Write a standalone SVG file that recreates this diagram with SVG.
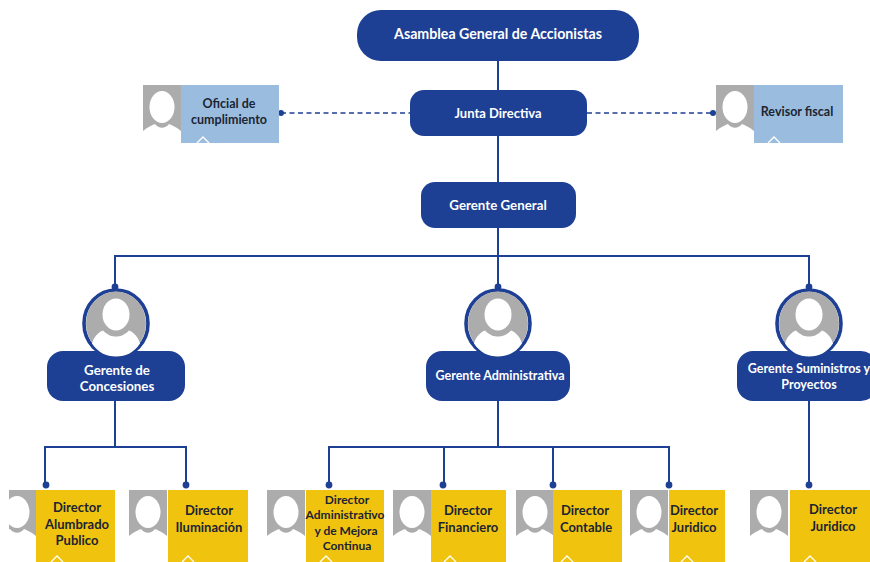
<svg xmlns="http://www.w3.org/2000/svg" width="870" height="562" viewBox="0 0 870 562">
<style>
text{font-family:"Lato","Liberation Sans",sans-serif;font-weight:700;text-anchor:middle}
.w{fill:#fff;font-size:12.5px}
.k{fill:#1c2433;font-size:12.5px}
.y{fill:#1c2433;font-size:13px}
.n{fill:#1d3f94}
.c{fill:none;stroke:#1d3f94;stroke-width:2}
.d{fill:none;stroke:#1d3f94;stroke-width:1.6;stroke-dasharray:5 3.5}
.dot{fill:#1d3f94}
.g{fill:#acacac}
.p{fill:#fff}
.bl{fill:#9abddf}
.ye{fill:#f0c30f}
.t{fill:none;stroke:#fff;stroke-width:1.3}
</style>
<defs>
<g id="head"><path class="g" d="M0 0H38V46C33 42 29 40 26 39C22 44 16 44 12 39C9 40 5 42 0 46Z"/><ellipse class="p" cx="19" cy="22" rx="12.5" ry="16"/></g>
<g id="circ"><ellipse cx="0" cy="0" rx="32" ry="33.5" fill="#fff" stroke="#1d3f94" stroke-width="3.6"/><ellipse class="g" cx="0" cy="0" rx="30" ry="32"/><path class="p" d="M-24 20C-22 12 -16 8 -13 7C-8 12 -4 13 0 13C4 13 8 12 13 7C16 8 22 12 24 20C18 29 10 33 0 33C-10 33 -18 29 -24 20Z"/><ellipse class="p" cx="0" cy="-9" rx="13.5" ry="16"/></g>
</defs>
<rect width="870" height="562" fill="#fff"/>
<g id="connectors">
<path class="c" d="M498 60V91M498 136V182M498 228V290M115 287V256H809V290M115 400V447H186V486M45 486V447H115M498 400V447M329 486V447H669V486M444 447V486M553 447V486M809 400V486"/>
<path class="d" d="M281 113H410M587 113H713"/>
<circle class="dot" cx="281" cy="113" r="3"/><circle class="dot" cx="713" cy="113" r="3"/>
<circle class="dot" cx="115" cy="287" r="3.4"/><circle class="dot" cx="498" cy="287" r="3.4"/><circle class="dot" cx="809" cy="287" r="3.4"/>
<circle class="dot" cx="46" cy="485" r="3.4"/><circle class="dot" cx="186" cy="485" r="3.4"/><circle class="dot" cx="329" cy="485" r="3.4"/><circle class="dot" cx="443" cy="485" r="3.4"/><circle class="dot" cx="553" cy="485" r="3.4"/><circle class="dot" cx="669" cy="485" r="3.4"/><circle class="dot" cx="809" cy="485" r="3.4"/>
</g>
<g id="asamblea"><rect class="n" x="357" y="10" width="282" height="51" rx="24"/><text class="w" x="498" y="39" style="font-size:14.2px">Asamblea General de Accionistas</text></g>
<g id="junta"><rect class="n" x="410" y="90" width="177" height="46" rx="14"/><text class="w" x="498" y="118" style="font-size:13px">Junta Directiva</text></g>
<g id="gerente-general"><rect class="n" x="421" y="182" width="155" height="46" rx="14"/><text class="w" x="498" y="210" style="font-size:13.3px">Gerente General</text></g>
<g id="oficial"><use href="#head" x="143" y="85"/><rect class="bl" x="181" y="85" width="98" height="58"/><path class="t" d="M197 143L203 137L209 143"/><text class="k" x="229" y="108">Oficial de</text><text class="k" x="229" y="124">cumplimiento</text></g>
<g id="revisor"><use href="#head" x="716" y="85"/><rect class="bl" x="754" y="85" width="89" height="58"/><path class="t" d="M768 143L774 137L780 143"/><text class="k" x="797" y="116">Revisor fiscal</text></g>
<g id="gerente-concesiones"><rect class="n" x="47" y="351" width="138" height="50" rx="16"/><use href="#circ" x="116" y="323.5"/><text class="w" x="117" y="375" style="font-size:13.3px">Gerente de</text><text class="w" x="117" y="391" style="font-size:13.3px">Concesiones</text></g>
<g id="gerente-administrativa"><rect class="n" x="426" y="351" width="144" height="50" rx="16"/><use href="#circ" x="498" y="323.5"/><text class="w" x="500" y="380">Gerente Administrativa</text></g>
<g id="gerente-suministros"><rect class="n" x="737" y="351" width="140" height="50" rx="16"/><use href="#circ" x="809" y="323.5"/><text class="w" x="809" y="373">Gerente Suministros y</text><text class="w" x="809" y="389">Proyectos</text></g>
<g id="dir-alumbrado"><svg x="9" y="490" width="27" height="72" viewBox="11 0 27 72"><use href="#head"/></svg><rect class="ye" x="36" y="490" width="79" height="72"/><path class="t" d="M51 562L57 556L63 562"/><text class="y" x="77" y="512">Director</text><text class="y" x="77" y="529">Alumbrado</text><text class="y" x="77" y="545">Publico</text></g>
<g id="dir-iluminacion"><use href="#head" x="129" y="490"/><rect class="ye" x="168" y="490" width="80" height="72"/><path class="t" d="M182 562L188 556L194 562"/><text class="y" x="209" y="515">Director</text><text class="y" x="209" y="532">Iluminación</text></g>
<g id="dir-administrativo"><use href="#head" x="267" y="490"/><rect class="ye" x="306" y="490" width="78" height="72"/><path class="t" d="M320 562L326 556L332 562"/><text class="y" x="347" y="504" style="font-size:12px">Director</text><text class="y" x="345" y="519" style="font-size:12px">Administrativo</text><text class="y" x="346" y="535" style="font-size:12px">y de Mejora</text><text class="y" x="347" y="550" style="font-size:12px">Continua</text></g>
<g id="dir-financiero"><use href="#head" x="393" y="490"/><rect class="ye" x="431" y="490" width="75" height="72"/><path class="t" d="M444 562L450 556L456 562"/><text class="y" x="468" y="515">Director</text><text class="y" x="468" y="532">Financiero</text></g>
<g id="dir-contable"><use href="#head" x="516" y="490"/><rect class="ye" x="553" y="490" width="69" height="72"/><path class="t" d="M561 562L567 556L573 562"/><text class="y" x="585" y="515">Director</text><text class="y" x="586" y="532">Contable</text></g>
<g id="dir-juridico"><use href="#head" x="630" y="490"/><rect class="ye" x="669" y="490" width="56" height="72"/><path class="t" d="M681 562L687 556L693 562"/><text class="y" x="694" y="515">Director</text><text class="y" x="694" y="532">Juridico</text></g>
<g id="dir-juridico-2"><use href="#head" x="750" y="490"/><rect class="ye" x="790" y="490" width="80" height="72"/><path class="t" d="M804 562L810 556L816 562"/><text class="y" x="833" y="514">Director</text><text class="y" x="833" y="531">Juridico</text></g>
</svg>
